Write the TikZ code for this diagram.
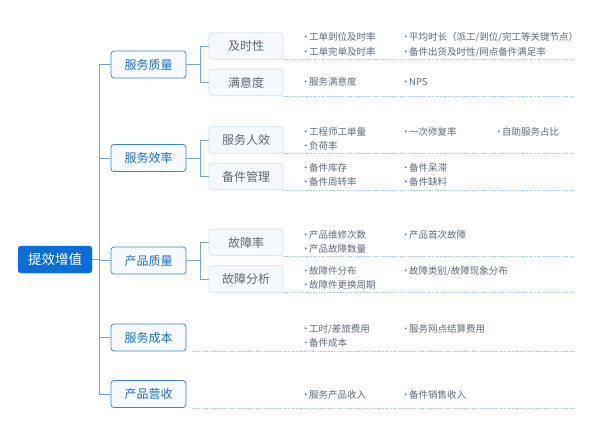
\documentclass[tikz,border=0pt]{standalone}
\usepackage{fontspec}
\setmainfont{Noto Sans CJK SC}
\definecolor{rootblue}{HTML}{0A6ED6}
\definecolor{lonebord}{HTML}{3D86CF}
\definecolor{lonetext}{HTML}{1D6FC0}
\definecolor{lonefill}{HTML}{F7FBFF}
\definecolor{ltwobord}{HTML}{CFE3F4}
\definecolor{ltwofill}{HTML}{F5F9FD}
\definecolor{ltwotext}{HTML}{5E6773}
\definecolor{linec}{HTML}{75A7D8}
\definecolor{dashc}{HTML}{A7C6E6}
\definecolor{itemc}{HTML}{5D6B7A}
\definecolor{bulletc}{HTML}{3D86CF}
\newcommand\bu{\textcolor{bulletc}{·}\kern-1.5pt}
\begin{document}
\begin{tikzpicture}[x=1pt,y=-1pt,
 conn/.style={draw=linec, line width=0.8pt},
 rootbox/.style={fill=rootblue, draw=rootblue, rounded corners=3pt, text=white, minimum width=74pt, minimum height=27pt, font=\fontsize{13.5}{14}\selectfont, inner sep=0pt},
 lonebox/.style={fill=lonefill, draw=lonebord, line width=0.8pt, rounded corners=3pt, text=lonetext, minimum width=75pt, minimum height=27pt, font=\fontsize{12}{13}\selectfont, inner sep=0pt},
 ltwobox/.style={fill=ltwofill, draw=ltwobord, line width=0.8pt, rounded corners=3pt, text=ltwotext, minimum width=74pt, minimum height=26.5pt, font=\fontsize{12}{13}\selectfont, inner sep=0pt},
 itm/.style={anchor=west, inner sep=0pt, text=itemc, font=\fontsize{9.5}{10}\selectfont},
 dashl/.style={draw=dashc, line width=0.6pt, dash pattern=on 1.5pt off 1.2pt}]
\useasboundingbox (0,0) rectangle (600,439);
\fill[white] (0,0) rectangle (600,439);

% root
\node[rootbox] (root) at (55,259.5) {提效增值};
\coordinate (tr) at (99,259.5);
\coordinate (rx) at (575,0);

% level 1
\node[lonebox] (s1) at (148.5,64.5) {服务质量};
\node[lonebox] (s2) at (148.5,158) {服务效率};
\node[lonebox] (s3) at (148.5,260.5) {产品质量};
\node[lonebox] (s4) at (148.5,337.5) {服务成本};
\node[lonebox] (s5) at (148.5,394) {产品营收};

% level 2
\node[ltwobox] (t1) at (246,46) {及时性};
\node[ltwobox] (t2) at (246,82.5) {满意度};
\node[ltwobox] (t3) at (246,140) {服务人效};
\node[ltwobox] (t4) at (246,176.5) {备件管理};
\node[ltwobox] (t5) at (246,242.5) {故障率};
\node[ltwobox] (t6) at (246,279) {故障分析};

% trunk
\draw[conn] (root.east) -- (tr);
\draw[conn] (tr) |- (s1.west);
\draw[conn] (tr) |- (s2.west);
\draw[conn] (tr) |- (s3.west);
\draw[conn] (tr) |- (s4.west);
\draw[conn] (tr) |- (s5.west);

% brackets
\coordinate (k1) at (200,64.5);
\coordinate (k2) at (200,158);
\coordinate (k3) at (200,260.5);
\draw[conn] (s1.east) -- (k1);
\draw[conn] (s2.east) -- (k2);
\draw[conn] (s3.east) -- (k3);
\draw[conn] (t1.west) -- ++(-8,0) |- (t2.west);
\draw[conn] (t3.west) -- ++(-8,0) |- (t4.west);
\draw[conn] (t5.west) -- ++(-8,0) |- (t6.west);

% dashed separators
\draw[dashl] (t1.south east) -- (t1.south east -| rx);
\draw[dashl] (t2.south east) -- (t2.south east -| rx);
\draw[dashl] (t3.south east) -- (t3.south east -| rx);
\draw[dashl] (t4.south east) -- (t4.south east -| rx);
\draw[dashl] (t5.south east) -- (t5.south east -| rx);
\draw[dashl] (t6.south east) -- (t6.south east -| rx);
\draw[dashl] ([xshift=7pt]s4.south east) -- (s4.south east -| rx);
\draw[dashl] ([xshift=7pt]s5.south east) -- (s5.south east -| rx);

% items
\node[itm] (a1) at (301,37.3) {\bu 工单到位及时率};
\node[itm] (a2) at (401,37.3) {\bu 平均时长（派工/到位/完工等关键节点）};
\node[itm] (a3) at (301,52.3) {\bu 工单完单及时率};
\node[itm] (a4) at (401,52.3) {\bu 备件出货及时性/网点备件满足率};

\node[itm] (b1) at (301,81.7) {\bu 服务满意度};
\node[itm] (b2) at (401,81.7) {\bu NPS};

\node[itm] (c1) at (301,131.7) {\bu 工程师工单量};
\node[itm] (c2) at (401,131.7) {\bu 一次修复率};
\node[itm] (c3) at (494,131.7) {\bu 自助服务占比};
\node[itm] (c4) at (301,146) {\bu 负荷率};

\node[itm] (d1) at (301,167.7) {\bu 备件库存};
\node[itm] (d2) at (401,167.7) {\bu 备件呆滞};
\node[itm] (d3) at (301,182.3) {\bu 备件周转率};
\node[itm] (d4) at (401,182.3) {\bu 备件缺料};

\node[itm] (e1) at (301,234.7) {\bu 产品维修次数};
\node[itm] (e2) at (401,234.7) {\bu 产品首次故障};
\node[itm] (e3) at (301,248.7) {\bu 产品故障数量};

\node[itm] (f1) at (301,271) {\bu 故障件分布};
\node[itm] (f2) at (401,271) {\bu 故障类别/故障现象分布};
\node[itm] (f3) at (301,285.3) {\bu 故障件更换周期};

\node[itm] (g1) at (301,329.3) {\bu 工时/差旅费用};
\node[itm] (g2) at (401,329.3) {\bu 服务网点结算费用};
\node[itm] (g3) at (301,343.3) {\bu 备件成本};

\node[itm] (h1) at (301,395.3) {\bu 服务产品收入};
\node[itm] (h2) at (401,395.3) {\bu 备件销售收入};
\end{tikzpicture}
\end{document}
